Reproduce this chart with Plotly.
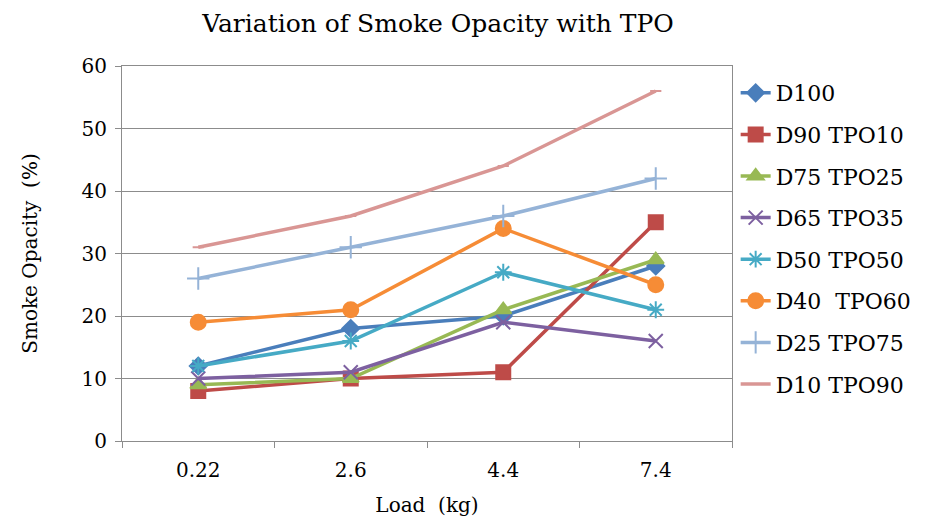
import plotly.graph_objects as go

# Engine load categories (kg)
loads = ["0.22", "2.6", "4.4", "7.4"]

# Smoke opacity (%) for each blend
d100 = [12, 18, 20, 28]
d90_tpo10 = [8, 10, 11, 35]
d75_tpo25 = [9, 10, 21, 29]
d65_tpo35 = [10, 11, 19, 16]
d50_tpo50 = [12, 16, 27, 21]
d40_tpo60 = [19, 21, 34, 25]
d25_tpo75 = [26, 31, 36, 42]
d10_tpo90 = [31, 36, 44, 56]

series = [
    ("D100", d100, "#4A7EBB", "diamond", 13),
    ("D90 TPO10", d90_tpo10, "#BE4B48", "square", 14),
    ("D75 TPO25", d75_tpo25, "#98B954", "triangle-up", 14),
    ("D65 TPO35", d65_tpo35, "#7D60A0", "x-thin", 14),
    ("D50 TPO50", d50_tpo50, "#46AAC5", "asterisk", 14),
    ("D40  TPO60", d40_tpo60, "#F68C36", "circle", 15),
    ("D25 TPO75", d25_tpo75, "#95B3D7", "cross-thin", 16),
    ("D10 TPO90", d10_tpo90, "#D99694", "line-ew", 8),
]

fig = go.Figure()
for i, (name, vals, color, symbol, size) in enumerate(series):
    fig.add_trace(go.Scatter(
        x=loads, y=vals, name=name, mode="lines+markers",
        legendgroup=f"g{i}",
        line=dict(color=color, width=3.5),
        marker=dict(symbol=symbol, size=size, color=color,
                    line=dict(color=color, width=2)),
    ))

font_family = "DejaVu Serif"
grid = "#8C8C8C"

fig.update_layout(
    width=935, height=519,
    margin=dict(l=122, r=203, t=66, b=78),
    paper_bgcolor="white", plot_bgcolor="white",
    font=dict(family=font_family, size=20, color="black"),
    title=dict(text="Variation of Smoke Opacity with TPO",
               x=438 / 935, xanchor="center", y=1 - 23 / 519, yanchor="middle",
               font=dict(size=25, family=font_family)),
    showlegend=True,
    legend=dict(x=1.006, xanchor="left", y=0.984, yanchor="top",
                font=dict(size=22, family=font_family),
                tracegroupgap=10, bgcolor="rgba(0,0,0,0)"),
    xaxis=dict(type="category", tickson="boundaries", ticks="outside",
               range=[-0.5, 3.5], automargin=False,
               ticklen=6, tickcolor=grid, showline=True, linecolor=grid,
               linewidth=1, mirror=True, showgrid=False,
               tickfont=dict(size=20, family=font_family), ticklabelstandoff=11,
               title=dict(text="Load  (kg)", font=dict(size=20, family=font_family),
                          standoff=16)),
    yaxis=dict(range=[0, 60], dtick=10, ticks="outside", ticklen=6,
               automargin=False,
               tickcolor=grid, showline=True, linecolor=grid, linewidth=1,
               mirror=True, showgrid=True, gridcolor=grid, gridwidth=1,
               zeroline=False, tickfont=dict(size=20, family=font_family),
               ticklabelstandoff=4,
               title=dict(text="Smoke Opacity  (%)",
                          font=dict(size=20, family=font_family), standoff=38)),
)

fig.write_html("out.html")
